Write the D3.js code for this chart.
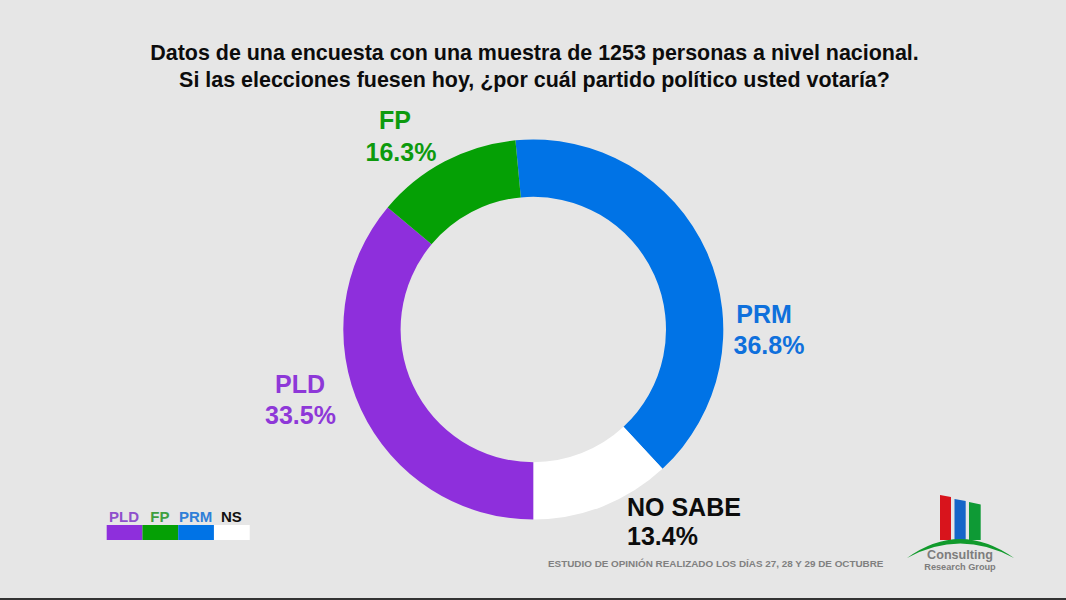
<!DOCTYPE html>
<html>
<head>
<meta charset="utf-8">
<script src="https://cdn.jsdelivr.net/npm/d3@7"></script>
<style>
  html, body { margin: 0; padding: 0; background: #e6e6e6; overflow: hidden; }
  text { font-family: "Liberation Sans", Arial, sans-serif; font-weight: bold; }
</style>
</head>
<body>
<svg id="chart" width="1066" height="600"></svg>
<script>
var titleLines = [
  "Datos de una encuesta con una muestra de 1253 personas a nivel nacional.",
  "Si las elecciones fuesen hoy, ¿por cuál partido político usted votaría?"
];
var parties = ["PRM", "NO SABE", "PLD", "FP"];
var labelValues = ["36.8%", "13.4%", "33.5%", "16.3%"];
// the ring in the picture is not drawn to its printed numbers, so these are the shares measured off the arcs
var arcShares = [39.6, 11.9, 36.1, 12.4];
var colors = ["#0073e6", "#ffffff", "#8e2fdc", "#05a005"];
var labelColors = ["#0f70dc", "#0c0c0c", "#8e38d8", "#0d9a0d"];
var legendNames = ["PLD", "FP", "PRM", "NS"];
var legendColors = ["#8e2fdc", "#05a005", "#0073e6", "#ffffff"];
var legendTextColors = ["#8e50cc", "#3f9f3f", "#2f7fd8", "#111111"];
var footer = "ESTUDIO DE OPINIÓN REALIZADO LOS DÍAS 27, 28 Y 29 DE OCTUBRE";

var svg = d3.select("#chart");

svg.append("rect").attr("width", 1066).attr("height", 600).attr("fill", "#e6e6e6");
svg.append("rect").attr("y", 598).attr("width", 1066).attr("height", 2).attr("fill", "#333");

svg.selectAll(".title").data(titleLines).enter().append("text")
  .attr("class", "title")
  .attr("x", 534.5)
  .attr("y", (d, i) => 60 + i * 27)
  .attr("text-anchor", "middle")
  .attr("font-size", 21.45)
  .attr("fill", "#0c0c0c")
  .text(d => d);

// donut
var startAngle = -5.4 * Math.PI / 180;
var pie = d3.pie().sort(null).startAngle(startAngle).endAngle(startAngle + 2 * Math.PI);
var arc = d3.arc().innerRadius(132.7).outerRadius(190);

svg.append("g").attr("transform", "translate(533.3,329.5)")
  .selectAll("path").data(pie(arcShares)).enter().append("path")
  .attr("d", arc)
  .attr("fill", (d, i) => colors[i]);

// labels around the ring
var labelPos = [
  { nameX: 764, valueX: 769, nameY: 323, valueY: 354, anchor: "middle" },
  { nameX: 627, valueX: 627, nameY: 516, valueY: 545, anchor: "start" },
  { nameX: 300, valueX: 300.5, nameY: 392.5, valueY: 423.5, anchor: "middle" },
  { nameX: 395, valueX: 401, nameY: 129, valueY: 161, anchor: "middle" }
];
labelPos.forEach(function (p, i) {
  var g = svg.append("g").attr("fill", labelColors[i]).attr("font-size", 25);
  g.append("text").attr("x", p.nameX).attr("y", p.nameY).attr("text-anchor", p.anchor).text(parties[i]);
  g.append("text").attr("x", p.valueX).attr("y", p.valueY).attr("text-anchor", p.anchor).text(labelValues[i]);
});

// legend strip
var legendX = d3.scaleBand().domain(legendNames).range([106.7, 249.7]);
svg.selectAll(".legend-box").data(legendNames).enter().append("rect")
  .attr("class", "legend-box")
  .attr("x", d => legendX(d))
  .attr("y", 525)
  .attr("width", legendX.bandwidth())
  .attr("height", 15)
  .attr("fill", (d, i) => legendColors[i]);
svg.selectAll(".legend-label").data(legendNames).enter().append("text")
  .attr("class", "legend-label")
  .attr("x", d => legendX(d) + legendX.bandwidth() / 2 - 0.5)
  .attr("y", 522)
  .attr("text-anchor", "middle")
  .attr("font-size", 15)
  .attr("fill", (d, i) => legendTextColors[i])
  .text(d => d);

svg.append("text")
  .attr("x", 548).attr("y", 567)
  .attr("font-size", 9.9)
  .attr("fill", "#808080")
  .text(footer);

// logo
var logo = svg.append("g");
logo.append("polygon").attr("points", "940,495 951,497 951,540 940,540").attr("fill", "#d8141c");
logo.append("polygon").attr("points", "954.5,499 965.7,501 965.7,540 954.5,540").attr("fill", "#1565c8");
logo.append("polygon").attr("points", "969,502 980.7,504.5 980.7,540 969,540").attr("fill", "#0e9a35");
logo.append("path").attr("d", "M907,558 Q960,520 1014,558 Q960,529 907,558 Z").attr("fill", "#119a2c");
logo.append("text").attr("x", 960).attr("y", 559).attr("text-anchor", "middle")
  .attr("font-size", 12.6).attr("fill", "#7d7d7d").text("Consulting");
logo.append("text").attr("x", 960).attr("y", 569.5).attr("text-anchor", "middle")
  .attr("font-size", 9.2).attr("fill", "#7d7d7d").text("Research Group");
</script>
</body>
</html>
